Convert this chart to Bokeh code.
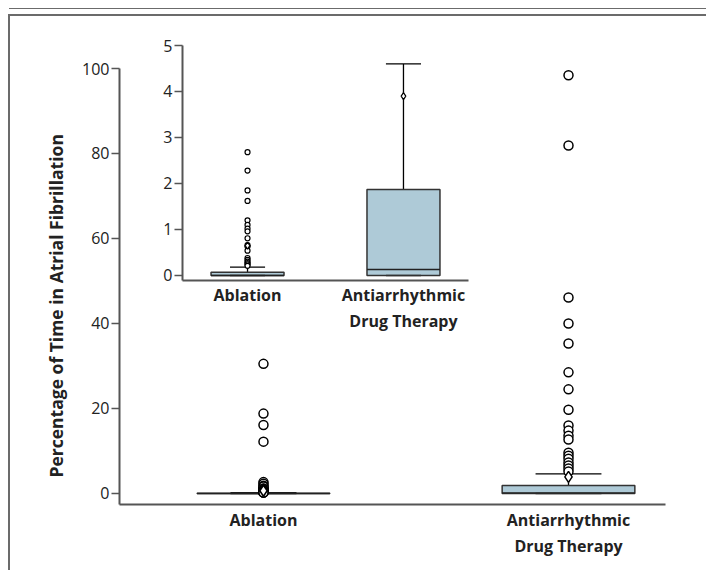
from bokeh.plotting import figure
from bokeh.models import FixedTicker, ColumnDataSource, Div, Title
from bokeh.embed import file_html
from bokeh.resources import INLINE

# ---- data ----
groups = ["Ablation", "Antiarrhythmic\nDrug Therapy"]
positions = [1, 2]
q1 = [0.0, 0.0]
median = [0.0, 0.13]
q3 = [0.07, 1.87]
lower_whisker = [0.0, 0.0]
upper_whisker = [0.18, 4.6]
means = [0.65, 3.9]

ablation_outliers = [30.5, 18.8, 16.1, 12.2, 2.68, 2.28, 1.85, 1.62, 1.20, 1.10,
                     1.02, 0.96, 0.81, 0.66, 0.63, 0.54, 0.38, 0.34, 0.30, 0.27,
                     0.24, 0.21]
drug_outliers = [98.4, 81.9, 46.1, 40.0, 35.3, 28.5, 24.5, 19.7, 16.0, 14.8,
                 13.6, 12.7, 9.6, 8.9, 8.2, 7.3, 6.6, 5.9, 5.2]
main_ticks = [0, 20, 40, 60, 80, 100]
inset_ticks = [0, 1, 2, 3, 4, 5]
y_title = "Percentage of Time in Atrial Fibrillation"

BOX_FILL = "#aecad7"
AXIS_COLOR = "#555555"
TEXT_COLOR = "#222222"
FRAME_COLOR = "#6b6b6b"
FONT = "Open Sans"


def draw_boxes(p, box_w, cap_w, circ, circ_lw, diam):
    src = ColumnDataSource(dict(
        x=positions, q1=q1, q3=q3, med=median, lo=lower_whisker, hi=upper_whisker,
        mean=means,
        bx0=[x - box_w / 2 for x in positions], bx1=[x + box_w / 2 for x in positions],
        cx0=[x - cap_w / 2 for x in positions], cx1=[x + cap_w / 2 for x in positions],
    ))
    p.segment(x0="x", y0="q3", x1="x", y1="hi", source=src, line_color="black", line_width=1.3)
    p.segment(x0="cx0", y0="hi", x1="cx1", y1="hi", source=src, line_color="black", line_width=1.3)
    p.vbar(x="x", bottom="q1", top="q3", width=box_w, source=src,
           fill_color=BOX_FILL, line_color="#333333", line_width=1.5)
    p.segment(x0="cx0", y0="lo", x1="cx1", y1="lo", source=src, line_color="#333333", line_width=1.3)
    p.segment(x0="bx0", y0="med", x1="bx1", y1="med", source=src, line_color="#222222", line_width=1.3)
    p.scatter(x=[positions[0]] * len(ablation_outliers), y=ablation_outliers, marker="circle",
              size=circ, fill_color="white", line_color="black", line_width=circ_lw)
    p.scatter(x=[positions[1]] * len(drug_outliers), y=drug_outliers, marker="circle",
              size=circ, fill_color="white", line_color="black", line_width=circ_lw)
    p.scatter(x="x", y="mean", source=src, marker="diamond", size=diam,
              fill_color="white", line_color="black", line_width=circ_lw)


def style_axes(p, ticks):
    for ax in p.xaxis + p.yaxis:
        ax.axis_line_color = AXIS_COLOR
        ax.axis_line_width = 2
        ax.major_tick_line_color = AXIS_COLOR
        ax.major_tick_line_width = 1.5
        ax.minor_tick_line_color = None
        ax.major_label_text_font = FONT
        ax.major_label_text_color = TEXT_COLOR
    p.yaxis.ticker = FixedTicker(ticks=ticks)
    p.yaxis.major_tick_out = 8
    p.yaxis.major_tick_in = 0
    p.yaxis.major_label_standoff = 2
    p.yaxis.major_label_text_font_size = "16px"
    p.xaxis.ticker = FixedTicker(ticks=positions)
    p.xaxis.major_label_overrides = {positions[0]: groups[0], positions[1]: groups[1]}
    p.xaxis.major_tick_line_color = None
    p.xaxis.major_tick_out = 0
    p.xaxis.major_tick_in = 0
    p.xaxis.major_label_text_font_style = "bold"
    p.xaxis.major_label_text_font_size = "16px"
    p.xaxis.major_label_standoff = 4
    p.xgrid.grid_line_color = None
    p.ygrid.grid_line_color = None
    p.outline_line_color = None


# ---- main plot ----
p = figure(width=706, height=570, output_backend="svg", toolbar_location=None,
           x_range=(0.528, 2.318), y_range=(-2.59, 100),
           min_border_left=119, min_border_right=41, min_border_top=68, min_border_bottom=66)
p.styles = {"position": "absolute", "left": "0px", "top": "0px"}
style_axes(p, main_ticks)
p.add_layout(Title(text=y_title, align="left", offset=27, standoff=24,
                   text_font=FONT, text_font_style="bold", text_font_size="17.5px",
                   text_color=TEXT_COLOR), "left")
draw_boxes(p, 0.435, 0.216, 9, 1.5, 11)

# ---- inset ----
q = figure(width=358, height=310, output_backend="svg", toolbar_location=None,
           x_range=(0.583, 2.417), y_range=(-0.109, 5),
           min_border_left=62, min_border_right=10, min_border_top=15, min_border_bottom=60)
q.styles = {"position": "absolute", "left": "120px", "top": "30px"}
q.background_fill_alpha = 0
q.border_fill_alpha = 0
style_axes(q, inset_ticks)
q.xaxis.major_label_standoff = 3
draw_boxes(q, 0.468, 0.225, 5, 1.2, 7)

# ---- page frame decoration ----
frame_thick = Div(text="", width=703, height=561,
                  styles={"position": "absolute", "left": "3px", "top": "9px",
                          "border-top": f"2.5px solid {FRAME_COLOR}",
                          "border-left": f"2.5px solid {FRAME_COLOR}",
                          "box-sizing": "border-box"})
frame_thin = Div(text="", width=702, height=6,
                 styles={"position": "absolute", "left": "4px", "top": "3px",
                         "border-top": f"1.5px solid {FRAME_COLOR}",
                         "box-sizing": "border-box"})

open("out.html", "w").write(file_html([p, q, frame_thick, frame_thin], INLINE))
